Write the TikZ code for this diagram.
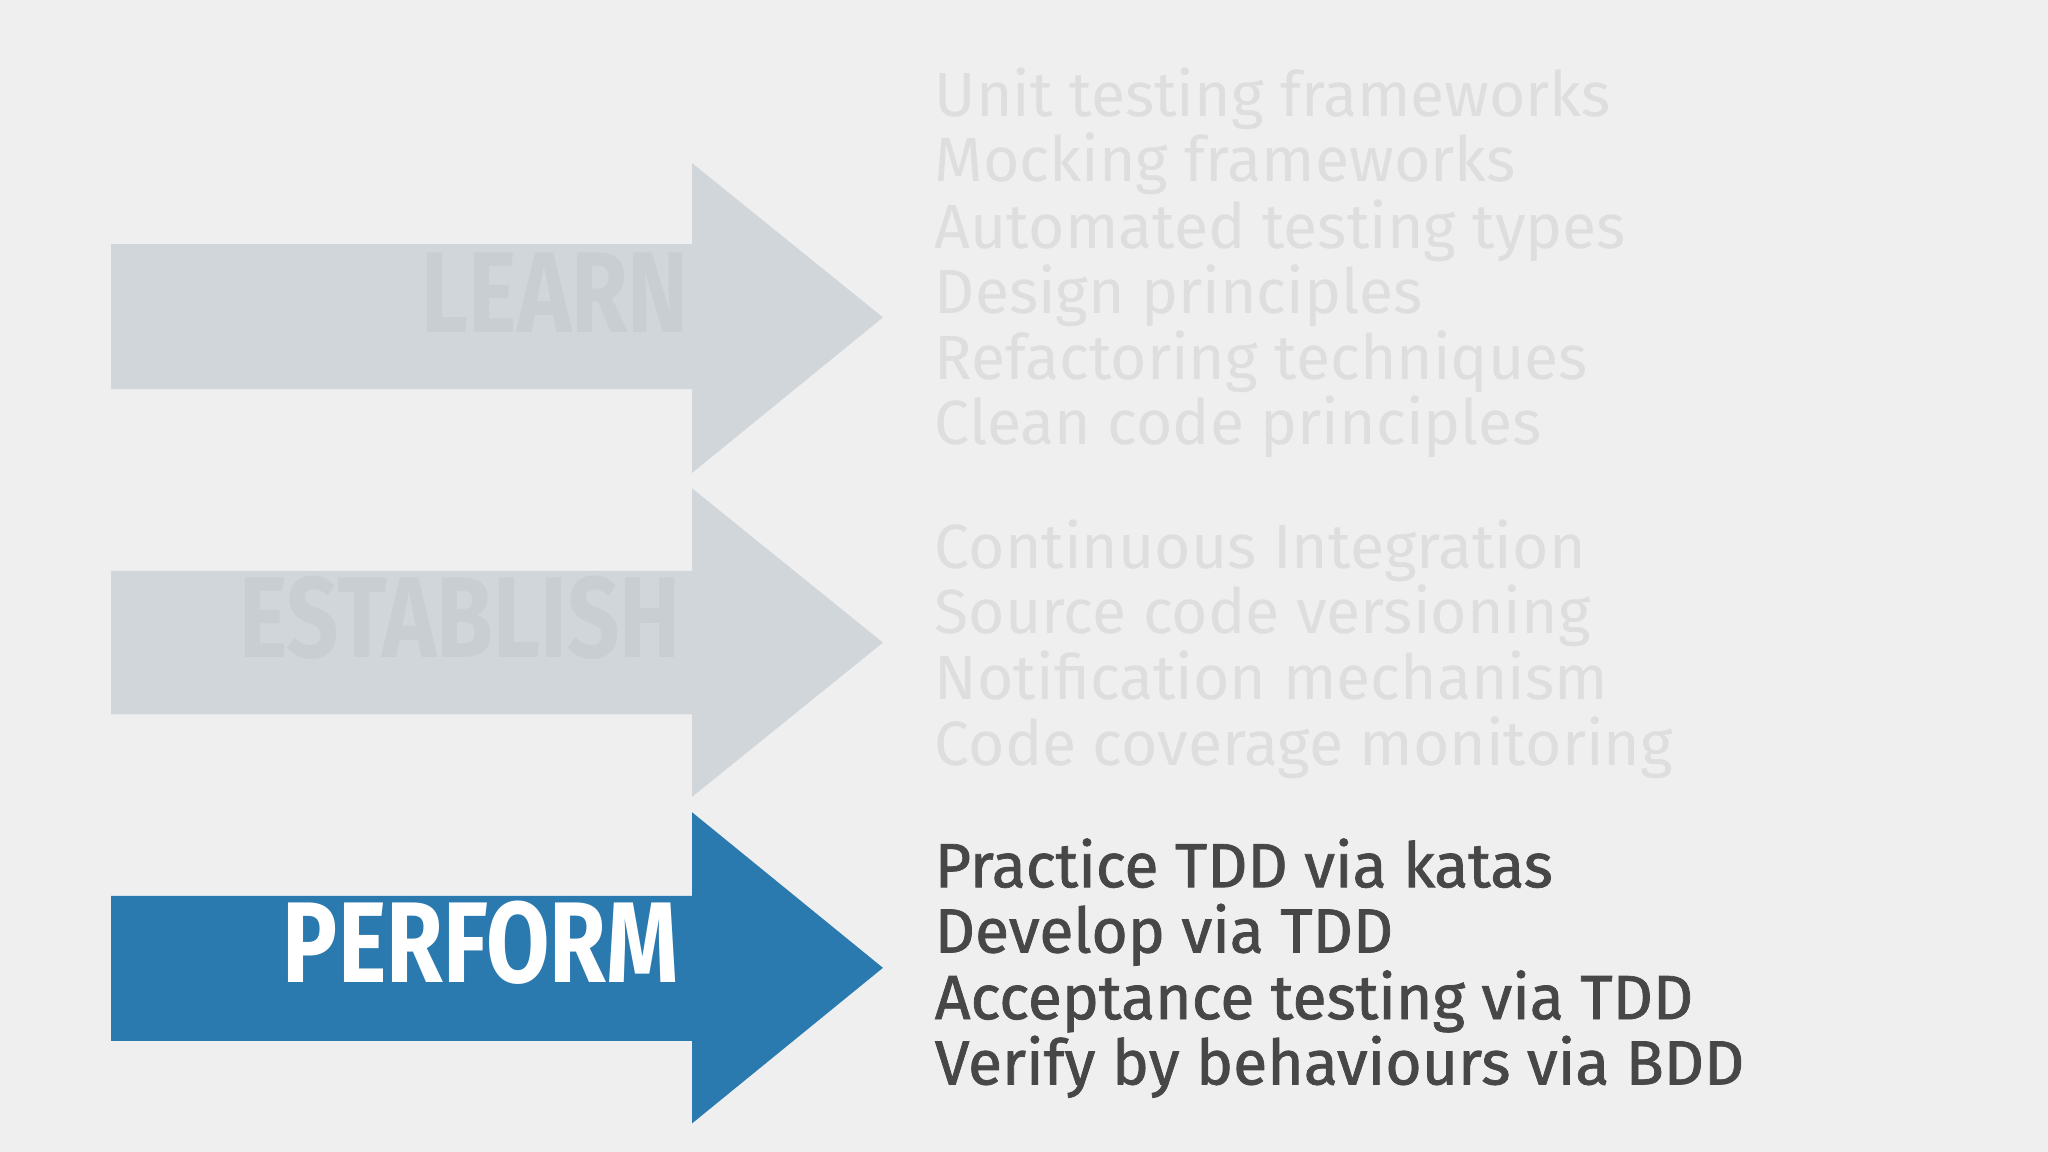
\documentclass[tikz,border=0pt]{standalone}
\usepackage{fontspec}
\setmainfont{Fira Sans}
\begin{document}
\begin{tikzpicture}[x=0.01cm,y=-0.01cm,
  item/.style={anchor=mid west,inner sep=0,font=\fontsize{13.6}{14}\selectfont},
  faint/.style={item,text=black!13},
  dark/.style={item,text=black!72,font=\fontsize{13.6}{14}\selectfont\addfontfeatures{FakeBold=1.2}},
  lbl/.style={anchor=mid east,inner sep=0,font=\fontsize{25}{26}\selectfont\bfseries,xscale=0.8}]
\definecolor{bg}{HTML}{EFEFF0}
\definecolor{garrow}{HTML}{D1D6DA}
\definecolor{gtext}{HTML}{C9CED3}
\definecolor{blue}{HTML}{2A7AB0}
\useasboundingbox[fill=bg] (0,0) rectangle (1568,882);
\fill[garrow] (85,187) -- (530,187) -- (530,125) -- (676,243) -- (530,362) -- (530,298) -- (85,298) -- cycle;
\fill[garrow] (85,437) -- (530,437) -- (530,374) -- (676,492) -- (530,610) -- (530,547) -- (85,547) -- cycle;
\fill[blue] (85,686) -- (530,686) -- (530,622) -- (676,741) -- (530,860) -- (530,797) -- (85,797) -- cycle;
\node[lbl,text=gtext] (l1) at (528,245) {LEARN};
\node[lbl,text=gtext] (l2) at (522,494) {ESTABLISH};
\node[lbl,text=white] (l3) at (520,743) {PERFORM};
\node[faint] (a1) at (715,80) {Unit testing frameworks};
\node[faint] (a2) at (715,130) {Mocking frameworks};
\node[faint] (a3) at (715,181) {Automated testing types};
\node[faint] (a4) at (715,231) {Design principles};
\node[faint] (a5) at (715,281) {Refactoring techniques};
\node[faint] (a6) at (715,331) {Clean code principles};
\node[faint] (b1) at (715,426) {Continuous Integration};
\node[faint] (b2) at (715,476) {Source code versioning};
\node[faint] (b3) at (715,526) {Notification mechanism};
\node[faint] (b4) at (715,577) {Code coverage monitoring};
\node[dark] (c1) at (715,670) {Practice TDD via katas};
\node[dark] (c2) at (715,720) {Develop via TDD};
\node[dark] (c3) at (715,771) {Acceptance testing via TDD};
\node[dark] (c4) at (715,821) {Verify by behaviours via BDD};
\end{tikzpicture}
\end{document}
